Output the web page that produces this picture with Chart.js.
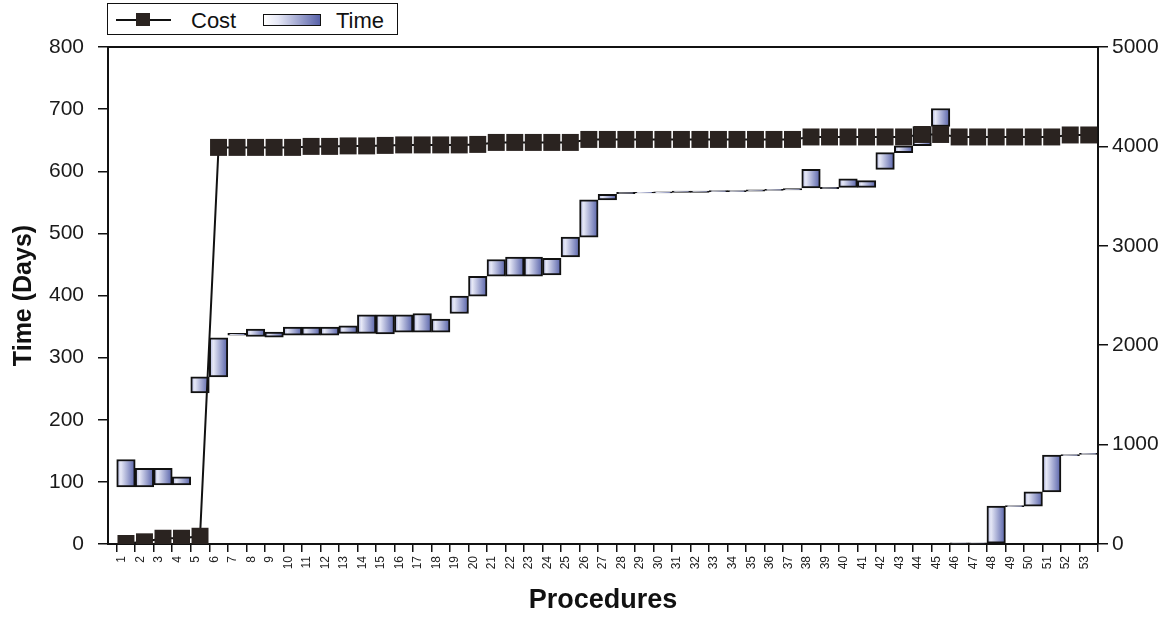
<!DOCTYPE html>
<html>
<head>
<meta charset="utf-8">
<script src="https://cdn.jsdelivr.net/npm/chart.js@4/dist/chart.umd.min.js"></script>
<style>
  html, body { margin: 0; padding: 0; background: #fff; }
  #wrap { position: relative; width: 1170px; height: 618px; }
  #legend { position: absolute; left: 107px; top: 3px; width: 289px; height: 30px; border: 1.5px solid #111; background: #fff;
            font-family: 'Liberation Sans', Arial, sans-serif; font-size: 22px; color: #111; }
  #legend .t { position: absolute; top: 6px; line-height: 22px; }
  #legend .ln { position: absolute; left: 8px; top: 15px; width: 55px; height: 1.5px; background: #111; }
  #legend .sq { position: absolute; left: 28px; top: 9px; width: 14px; height: 13px; background: #2a2320; }
  #legend .bx { position: absolute; left: 155px; top: 10px; width: 56px; height: 10px; border: 1.5px solid #111;
                background: linear-gradient(to right, #ffffff 0%, #e6e8f6 25%, #5862a9 100%); }
</style>
</head>
<body>
<div id="wrap">
  <canvas id="c" width="1170" height="618"></canvas>
  <div id="legend">
    <div class="ln"></div><div class="sq"></div><span class="t" style="left:83px">Cost</span>
    <div class="bx"></div><span class="t" style="left:228px">Time</span>
  </div>
</div>
<script>
// ---- data ----
const categories = ['1','2','3','4','5','6','7','8','9','10','11','12','13','14','15','16','17','18','19','20',
  '21','22','23','24','25','26','27','28','29','30','31','32','33','34','35','36','37','38','39','40',
  '41','42','43','44','45','46','47','48','49','50','51','52','53'];
// Time (days): floating bars, start and end of each procedure
const timeStart = [92,92,95,95,243,269,336,334,333,336,336,336,339,339,338,341,341,341,371,399,
  431,431,431,433,462,494,554,564,565,565,566,566,567,567,568,569,570,573,572,574,
  574,603,630,641,672,0,0,0,60,61,84,142,144];
const timeEnd = [136,122,122,108,269,332,339,346,341,349,349,349,351,369,369,369,371,362,399,431,
  458,462,462,460,494,554,563,566,566,567,568,568,569,569,570,571,572,603,574,588,
  585,630,641,672,701,2,2,61,62,84,143,144,146];
// Cost (right axis)
const cost = [5,22,58,58,78,3990,3990,3990,3990,3990,4000,4000,4005,4005,4010,4015,4015,4015,4015,4020,
  4040,4040,4040,4040,4040,4070,4070,4070,4070,4070,4070,4070,4070,4070,4070,4070,4070,4095,4095,4095,
  4095,4095,4095,4120,4120,4095,4095,4095,4095,4095,4095,4115,4115];
const timeTicks = [0,100,200,300,400,500,600,700,800];
const costTicks = [0,1000,2000,3000,4000,5000];

const FONT = "'Liberation Sans', Arial, sans-serif";
const INK = '#111';

const timeData = categories.map((c, i) => ({ x: i + 1.5, y: [timeStart[i], timeEnd[i]] }));
const costData = categories.map((c, i) => ({ x: i + 1.5, y: cost[i] }));

function barGradient(ctx) {
  const chart = ctx.chart;
  const xs = chart.scales && chart.scales.x;
  if (ctx.type !== 'data' || !xs || !ctx.raw) return '#8c94cf';
  const l = xs.getPixelForValue(ctx.raw.x - 0.5), r = xs.getPixelForValue(ctx.raw.x + 0.5);
  if (!isFinite(l) || !isFinite(r) || r <= l) return '#8c94cf';
  const g = chart.ctx.createLinearGradient(l, 0, r, 0);
  g.addColorStop(0, '#aab1df');
  g.addColorStop(0.22, '#e6e8f6');
  g.addColorStop(1, '#5560a8');
  return g;
}

const frame = {
  id: 'frame',
  afterDatasetsDraw(chart) {
    const { ctx, chartArea: a } = chart;
    ctx.save();
    ctx.strokeStyle = INK; ctx.lineWidth = 2;
    ctx.beginPath(); ctx.moveTo(a.left, a.top); ctx.lineTo(a.right, a.top); ctx.stroke();
    ctx.restore();
  }
};

new Chart(document.getElementById('c'), {
  data: {
    datasets: [
      {
        type: 'line', label: 'Cost', data: costData, yAxisID: 'y2', order: 0,
        borderColor: INK, borderWidth: 2, tension: 0,
        pointStyle: 'rect', pointRadius: 12, pointBorderWidth: 0,
        pointBackgroundColor: '#2a2320', pointBorderColor: '#2a2320',
        clip: { left: 20, right: 20, top: 20, bottom: 0 }
      },
      {
        type: 'bar', label: 'Time', data: timeData, yAxisID: 'y', order: 1,
        backgroundColor: barGradient, borderColor: INK, borderWidth: 2, borderSkipped: false,
        barPercentage: 1, categoryPercentage: 1
      }
    ]
  },
  options: {
    responsive: false, animation: false,
    layout: { padding: { top: 47, left: 0, right: 0, bottom: 0 } },
    plugins: { legend: { display: false }, tooltip: { enabled: false } },
    scales: {
      x: {
        type: 'linear', min: 0.53, max: 54, offset: false,
        grid: { offset: false, drawOnChartArea: false, drawTicks: true, tickLength: 8, color: INK, lineWidth: 1.5 },
        border: { display: true, color: INK, width: 2 },
        ticks: {
          stepSize: 1, includeBounds: false, autoSkip: false, minRotation: 90, maxRotation: 90,
          padding: 4, labelOffset: 5, color: '#222', font: { family: FONT, size: 12 },
          callback: (v) => (Number.isInteger(v) && v >= 1 && v <= categories.length) ? categories[v - 1] : ''
        },
        title: { display: true, text: 'Procedures', color: INK, font: { family: FONT, size: 27, weight: 'bold' }, padding: { top: 0, bottom: 1 } },
        afterFit: (s) => { s.height = 74; }
      },
      y: {
        type: 'linear', position: 'left', min: 0, max: 800,
        afterBuildTicks: (s) => { s.ticks = timeTicks.map(v => ({ value: v })); },
        grid: { drawOnChartArea: false, drawTicks: true, tickLength: 10, color: INK, lineWidth: 1.5 },
        border: { display: true, color: INK, width: 2 },
        ticks: { padding: 14, color: '#1a1a1a', font: { family: FONT, size: 21 }, callback: (v) => String(v) },
        title: { display: true, text: 'Time (Days)', color: INK, font: { family: FONT, size: 25, weight: 'bold' }, padding: { top: 9, bottom: 0 } },
        afterFit: (s) => { s.width = 108; }
      },
      y2: {
        type: 'linear', position: 'right', min: 0, max: 5000,
        afterBuildTicks: (s) => { s.ticks = costTicks.map(v => ({ value: v })); },
        grid: { drawOnChartArea: false, drawTicks: true, tickLength: 10, color: INK, lineWidth: 1.5 },
        border: { display: true, color: INK, width: 2 },
        ticks: { padding: 4, color: '#1a1a1a', font: { family: FONT, size: 21 }, callback: (v) => String(v) },
        afterFit: (s) => { s.width = 72; }
      }
    }
  },
  plugins: [frame]
});
</script>
</body>
</html>
